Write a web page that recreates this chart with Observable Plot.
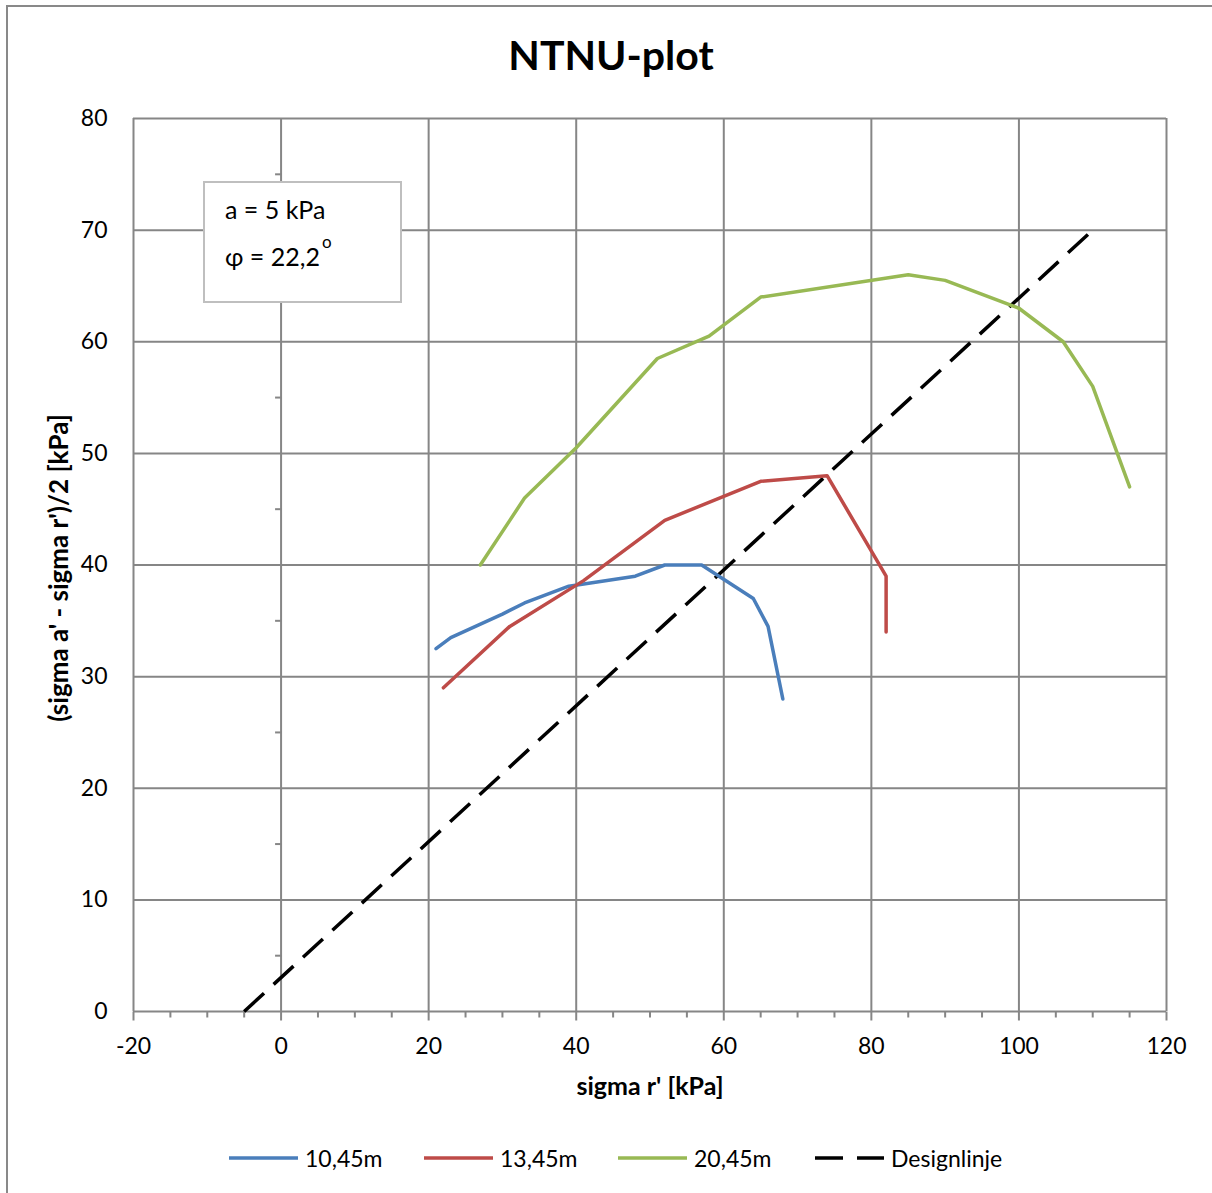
<!DOCTYPE html>
<html>
<head>
<meta charset="utf-8">
<script src="https://cdn.jsdelivr.net/npm/d3@7"></script>
<script src="https://cdn.jsdelivr.net/npm/@observablehq/plot@0.6"></script>
<style>
  html, body { margin: 0; padding: 0; background: #fff; }
  #wrap { position: relative; width: 1212px; height: 1193px; overflow: hidden; font-family: Lato, "Open Sans", sans-serif; }
  #border { position: absolute; left: 6px; top: 5px; width: 1240px; height: 1240px; border: 2px solid #898989; box-sizing: border-box; }
  #title { position: absolute; left: 0; width: 1222px; top: 30px; text-align: center; font-size: 41px; font-weight: bold; color: #000; }
  #plot { position: absolute; left: 0; top: 0; }
  #note { position: absolute; left: 203px; top: 181px; width: 199px; height: 122px; box-sizing: border-box; border: 2px solid #bfbfbf; background: #fff; font-size: 25px; color: #000; }
  #note .l1 { position: absolute; left: 20px; top: 11px; }
  #note .l2 { position: absolute; left: 20px; top: 57px; }
  #note sup { font-size: 17px; position: relative; top: -9px; margin-left: 2px; }
  .leg { position: absolute; top: 1144px; height: 28px; display: flex; align-items: center; font-size: 23px; color: #000; }
  .leg svg { margin-right: 7px; }
</style>
</head>
<body>
<div id="wrap">
  <div id="border"></div>
  <div id="plot"></div>
  <div id="title"></div>
  <div id="note"><span class="l1"></span><span class="l2"></span></div>
  <div id="legend"></div>
</div>
<script>
// ---- data ----
const titleText = "NTNU-plot";
const xLabel = "sigma r' [kPa]";
const yLabel = "(sigma a' - sigma r')/2 [kPa]";
const xTicks = [-20, 0, 20, 40, 60, 80, 100, 120];
const yTicks = [0, 10, 20, 30, 40, 50, 60, 70, 80];
const xMinor = [-15, -10, -5, 5, 10, 15, 25, 30, 35, 45, 50, 55, 65, 70, 75, 85, 90, 95, 105, 110, 115];
const yMinor = [5, 15, 25, 35, 45, 55, 65, 75];

const seriesNames = ["10,45m", "13,45m", "20,45m", "Designlinje"];
const seriesColors = ["#4a7ebb", "#be4b48", "#98b954", "#000000"];

const x1045 = [21, 23, 30, 33, 39, 48, 52, 57, 64, 66, 68];
const y1045 = [32.5, 33.5, 35.6, 36.6, 38.1, 39, 40, 40, 37, 34.5, 28];

const x1345 = [22, 31, 41, 52, 65, 74, 82, 82];
const y1345 = [29, 34.5, 38.6, 44, 47.5, 48, 39, 34];

const x2045 = [27, 33, 40, 51, 58, 65, 85, 90, 100, 106, 110, 115];
const y2045 = [40, 46, 50.5, 58.5, 60.5, 64, 66, 65.5, 63, 60, 56, 47];

const xDesign = [-5, 110];
const yDesign = [0, 70];

const noteLine1 = "a = 5 kPa";
const noteLine2 = "φ = 22,2";
const noteSup = "o";

// ---- build ----
const toRows = (xs, ys) => xs.map((x, i) => ({x, y: ys[i]}));
const s1 = toRows(x1045, y1045);
const s2 = toRows(x1345, y1345);
const s3 = toRows(x2045, y2045);
const sd = toRows(xDesign, yDesign);

const grid = "#868686";
const tickLeft = {draw(ctx) { ctx.moveTo(-6, 0); ctx.lineTo(0, 0); }};
const tickDown5 = {draw(ctx) { ctx.moveTo(0, 0); ctx.lineTo(0, 6); }};
const tickDown8 = {draw(ctx) { ctx.moveTo(0, 0); ctx.lineTo(0, 9); }};

const chart = Plot.plot({
  width: 1212,
  height: 1193,
  marginLeft: 133,
  marginRight: 46,
  marginTop: 118,
  marginBottom: 182,
  style: {fontFamily: "Lato, 'Open Sans', sans-serif", background: "transparent"},
  x: {domain: [-20, 120], axis: null},
  y: {domain: [0, 80], axis: null},
  marks: [
    Plot.ruleX(xTicks, {stroke: grid, strokeWidth: 2}),
    Plot.ruleY(yTicks, {stroke: grid, strokeWidth: 2}),
    Plot.dot(xMinor, {x: d => d, y: () => 0, symbol: tickDown5, stroke: grid, strokeWidth: 2, r: 3}),
    Plot.dot(xTicks, {x: d => d, y: () => 0, symbol: tickDown8, stroke: grid, strokeWidth: 2, r: 3}),
    Plot.dot(yMinor, {x: () => 0, y: d => d, symbol: tickLeft, stroke: grid, strokeWidth: 2, r: 3}),
    Plot.axisX({ticks: xTicks, tickFormat: d => String(d), tickSize: 0, tickPadding: 26, fontSize: 23, fill: "#000", label: null}),
    Plot.axisY({ticks: yTicks, tickFormat: d => String(d), tickSize: 0, tickPadding: 26, fontSize: 23, fill: "#000", label: null}),
    Plot.line(sd, {x: "x", y: "y", stroke: seriesColors[3], strokeWidth: 3.5, strokeDasharray: "27,13", strokeLinecap: "butt"}),
    Plot.line(s1, {x: "x", y: "y", stroke: seriesColors[0], strokeWidth: 3.5}),
    Plot.line(s2, {x: "x", y: "y", stroke: seriesColors[1], strokeWidth: 3.5}),
    Plot.line(s3, {x: "x", y: "y", stroke: seriesColors[2], strokeWidth: 3.5}),
    Plot.text([xLabel], {text: d => d, frameAnchor: "bottom", dy: 75, lineAnchor: "middle", fontSize: 25, fontWeight: "bold", fill: "#000"}),
    Plot.text([yLabel], {text: d => d, frameAnchor: "left", textAnchor: "middle", dx: -74, dy: 3, rotate: -90, lineAnchor: "middle", fontSize: 26, fontWeight: "bold", fill: "#000"})
  ]
});
document.getElementById("plot").appendChild(chart);

document.getElementById("title").textContent = titleText;
document.querySelector("#note .l1").textContent = noteLine1;
const l2 = document.querySelector("#note .l2");
l2.textContent = noteLine2;
const sup = document.createElement("sup");
sup.textContent = noteSup;
l2.appendChild(sup);

// legend
const legLefts = [229, 424, 618, 815];
const legend = document.getElementById("legend");
seriesNames.forEach((name, i) => {
  const item = document.createElement("div");
  item.className = "leg";
  item.style.left = legLefts[i] + "px";
  const dash = i === 3 ? 'stroke-dasharray="28,14"' : '';
  item.innerHTML = `<svg width="69" height="10"><line x1="0" y1="5" x2="69" y2="5" stroke="${seriesColors[i]}" stroke-width="3.5" ${dash}/></svg><span>${name}</span>`;
  legend.appendChild(item);
});
</script>
</body>
</html>
